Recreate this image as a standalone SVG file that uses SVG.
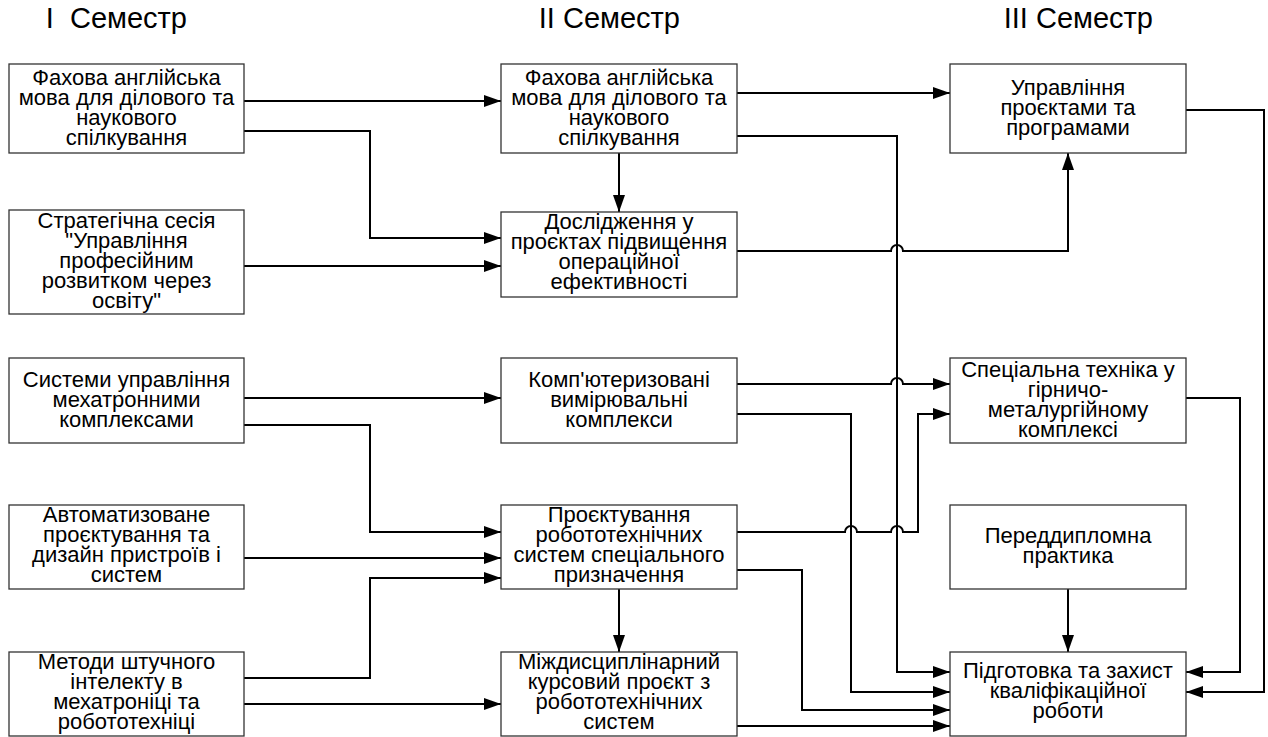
<svg xmlns="http://www.w3.org/2000/svg" width="1268" height="737" viewBox="0 0 1268 737">
<style>
.box{fill:#fff;stroke:#333;stroke-width:1.3}
.t{font-family:"Liberation Sans",Arial,sans-serif;font-size:22px;fill:#000;text-anchor:middle}
.h{font-family:"Liberation Sans",Arial,sans-serif;font-size:29px;fill:#000;text-anchor:end}
.c{fill:none;stroke:#000;stroke-width:2}
</style>
<defs>
<marker id="ar" markerUnits="userSpaceOnUse" markerWidth="17" markerHeight="12" refX="17" refY="6" orient="auto">
<path d="M0,0 L17,6 L0,12 z" fill="#000"/>
</marker>
</defs>
<rect width="1268" height="737" fill="#fff"/>
<g id="titles">
<text class="h" x="187" y="28" xml:space="preserve">I  Семестр</text>
<text class="h" x="680" y="28">II Семестр</text>
<text class="h" x="1153" y="28">III Семестр</text>
</g>
<g id="connectors">
<path class="c" marker-end="url(#ar)" d="M244,101 H501"/>
<path class="c" marker-end="url(#ar)" d="M244,131 H370 V238 H501"/>
<path class="c" marker-end="url(#ar)" d="M244,266 H501"/>
<path class="c" marker-end="url(#ar)" d="M737,93 H950"/>
<path class="c" marker-end="url(#ar)" d="M737,136 H897 V672 H950"/>
<path class="c" marker-end="url(#ar)" d="M619,153 V212"/>
<path class="c" marker-end="url(#ar)" d="M737,251 H891 A6,6 0 0 1 903,251 H1068 V153"/>
<path class="c" marker-end="url(#ar)" d="M1186,110 H1264 V692 H1186"/>
<path class="c" marker-end="url(#ar)" d="M244,398 H501"/>
<path class="c" marker-end="url(#ar)" d="M244,425 H370 V532 H501"/>
<path class="c" marker-end="url(#ar)" d="M244,558 H501"/>
<path class="c" marker-end="url(#ar)" d="M244,678 H370 V578 H501"/>
<path class="c" marker-end="url(#ar)" d="M244,704 H501"/>
<path class="c" marker-end="url(#ar)" d="M737,384 H891 A6,6 0 0 1 903,384 H950"/>
<path class="c" marker-end="url(#ar)" d="M737,414 H851 V692 H950"/>
<path class="c" marker-end="url(#ar)" d="M737,532 H845 A6,6 0 0 1 857,532 H891 A6,6 0 0 1 903,532 H918 V414 H950"/>
<path class="c" marker-end="url(#ar)" d="M737,570 H802 V710 H950"/>
<path class="c" marker-end="url(#ar)" d="M619,589 V652"/>
<path class="c" marker-end="url(#ar)" d="M737,726 H950"/>
<path class="c" marker-end="url(#ar)" d="M1186,398 H1240 V672 H1186"/>
<path class="c" marker-end="url(#ar)" d="M1068,589 V652"/>
</g>
<g id="n1">
<rect class="box" x="9" y="64" width="235" height="89"/>
<text class="t" y="85"><tspan x="126.5">Фахова англійська</tspan><tspan x="126.5" dy="20">мова для ділового та</tspan><tspan x="126.5" dy="20">наукового</tspan><tspan x="126.5" dy="20">спілкування</tspan></text>
</g>
<g id="n2">
<rect class="box" x="9" y="210" width="235" height="104"/>
<text class="t" y="228"><tspan x="126.5">Стратегічна сесія</tspan><tspan x="126.5" dy="20">"Управління</tspan><tspan x="126.5" dy="20">професійним</tspan><tspan x="126.5" dy="20">розвитком через</tspan><tspan x="126.5" dy="20">освіту"</tspan></text>
</g>
<g id="n3">
<rect class="box" x="9" y="358" width="235" height="85"/>
<text class="t" y="387"><tspan x="126.5">Системи управління</tspan><tspan x="126.5" dy="20">мехатронними</tspan><tspan x="126.5" dy="20">комплексами</tspan></text>
</g>
<g id="n4">
<rect class="box" x="9" y="505" width="235" height="84"/>
<text class="t" y="522"><tspan x="126.5">Автоматизоване</tspan><tspan x="126.5" dy="20">проєктування та</tspan><tspan x="126.5" dy="20">дизайн пристроїв і</tspan><tspan x="126.5" dy="20">систем</tspan></text>
</g>
<g id="n5">
<rect class="box" x="9" y="652" width="235" height="84"/>
<text class="t" y="669"><tspan x="126.5">Методи штучного</tspan><tspan x="126.5" dy="20">інтелекту в</tspan><tspan x="126.5" dy="20">мехатроніці та</tspan><tspan x="126.5" dy="20">робототехніці</tspan></text>
</g>
<g id="n6">
<rect class="box" x="501" y="64" width="236" height="89"/>
<text class="t" y="85"><tspan x="619">Фахова англійська</tspan><tspan x="619" dy="20">мова для ділового та</tspan><tspan x="619" dy="20">наукового</tspan><tspan x="619" dy="20">спілкування</tspan></text>
</g>
<g id="n7">
<rect class="box" x="501" y="212" width="236" height="85"/>
<text class="t" y="229"><tspan x="619">Дослідження у</tspan><tspan x="619" dy="20">проєктах підвищення</tspan><tspan x="619" dy="20">операційної</tspan><tspan x="619" dy="20">ефективності</tspan></text>
</g>
<g id="n8">
<rect class="box" x="501" y="358" width="236" height="85"/>
<text class="t" y="387"><tspan x="619">Комп'ютеризовані</tspan><tspan x="619" dy="20">вимірювальні</tspan><tspan x="619" dy="20">комплекси</tspan></text>
</g>
<g id="n9">
<rect class="box" x="501" y="505" width="236" height="84"/>
<text class="t" y="522"><tspan x="619">Проєктування</tspan><tspan x="619" dy="20">робототехнічних</tspan><tspan x="619" dy="20">систем спеціального</tspan><tspan x="619" dy="20">призначення</tspan></text>
</g>
<g id="n10">
<rect class="box" x="501" y="652" width="236" height="84"/>
<text class="t" y="669"><tspan x="619">Міждисциплінарний</tspan><tspan x="619" dy="20">курсовий проєкт з</tspan><tspan x="619" dy="20">робототехнічних</tspan><tspan x="619" dy="20">систем</tspan></text>
</g>
<g id="n11">
<rect class="box" x="950" y="64" width="236" height="89"/>
<text class="t" y="95"><tspan x="1068">Управління</tspan><tspan x="1068" dy="20">проєктами та</tspan><tspan x="1068" dy="20">програмами</tspan></text>
</g>
<g id="n12">
<rect class="box" x="950" y="358" width="236" height="85"/>
<text class="t" y="377"><tspan x="1068">Спеціальна техніка у</tspan><tspan x="1068" dy="20">гірничо-</tspan><tspan x="1068" dy="20">металургійному</tspan><tspan x="1068" dy="20">комплексі</tspan></text>
</g>
<g id="n13">
<rect class="box" x="950" y="505" width="236" height="84"/>
<text class="t" y="543"><tspan x="1068">Переддипломна</tspan><tspan x="1068" dy="20">практика</tspan></text>
</g>
<g id="n14">
<rect class="box" x="950" y="652" width="236" height="84"/>
<text class="t" y="678"><tspan x="1068">Підготовка та захист</tspan><tspan x="1068" dy="20">кваліфікаційної</tspan><tspan x="1068" dy="20">роботи</tspan></text>
</g>
</svg>
